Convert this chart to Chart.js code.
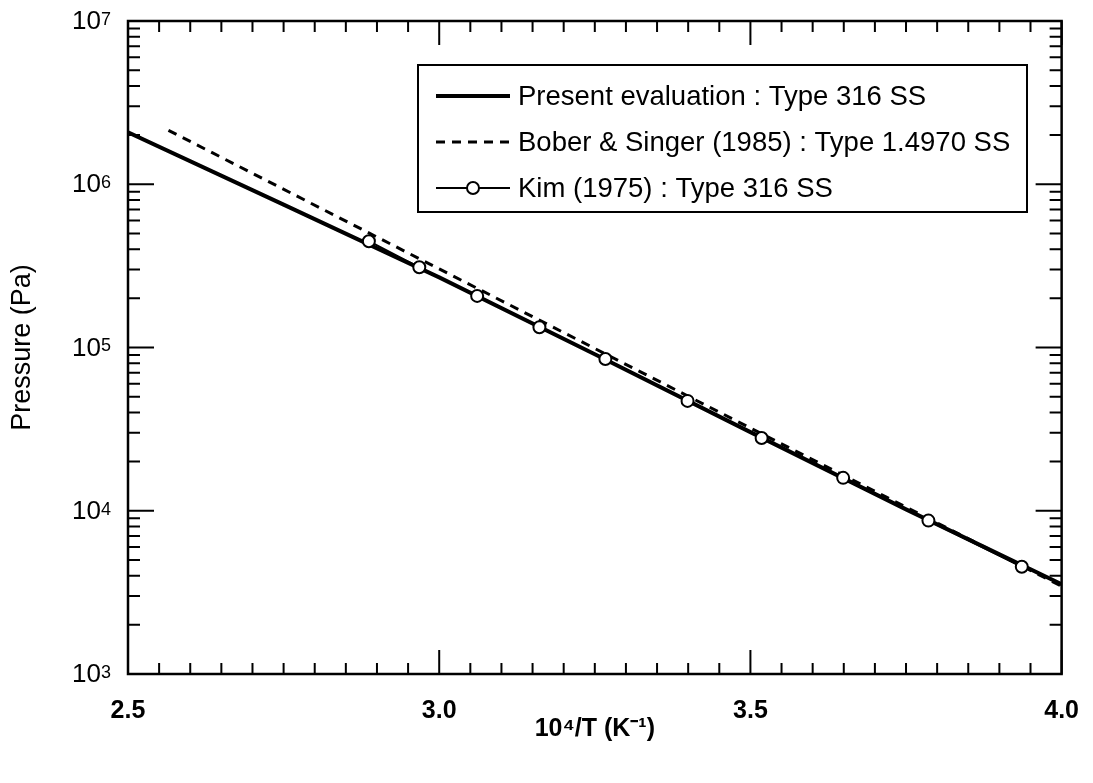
<!DOCTYPE html>
<html>
<head>
<meta charset="utf-8">
<script src="https://cdn.jsdelivr.net/npm/chart.js@4.4.0/dist/chart.umd.min.js"></script>
<style>
  html, body { margin: 0; padding: 0; background: #fff; }
  #wrap { width: 1093px; height: 783px; }
</style>
</head>
<body>
<div id="wrap"><canvas id="grafico" width="1093" height="783"></canvas></div>
<script>
// valores (x = 10^4/T, y = pressão em Pa)
const presenteX = [2.5, 2.75, 3.0, 3.25, 3.5, 3.75, 4.0];
const presenteP = [2.08e6, 7.5e5, 2.69e5, 9.1e4, 3.03e4, 1.02e4, 3.55e3];

const boberX = [2.565, 3.0, 3.5, 4.0];
const boberP = [2.14e6, 3.03e5, 3.21e4, 3.45e3];

const kimX = [2.887, 2.968, 3.061, 3.161, 3.267, 3.399, 3.518, 3.649, 3.786, 3.936];
const kimP = [4.48e5, 3.10e5, 2.07e5, 1.33e5, 8.5e4, 4.71e4, 2.79e4, 1.59e4, 8.7e3, 4.54e3];

const xTicks = [2.5, 3.0, 3.5, 4.0];
const yTicks = [1e3, 1e4, 1e5, 1e6, 1e7];

const legendas = [
    'Present evaluation : Type 316 SS',
    'Bober & Singer (1985) : Type 1.4970 SS',
    'Kim (1975) : Type 316 SS'
];

const FONTE = "'Liberation Sans', Arial, Helvetica, sans-serif";

const pares = (xs, ys) => xs.map((x, i) => ({ x: x, y: ys[i] }));

// moldura + marcas internas + rótulos 10^n do eixo y
const moldura = {
    id: 'moldura',
    afterDraw(chart) {
        const { ctx, chartArea: a, scales } = chart;
        ctx.save();
        ctx.strokeStyle = '#000';
        ctx.lineWidth = 2.5;
        ctx.strokeRect(a.left, a.top, a.right - a.left, a.bottom - a.top);
        ctx.lineWidth = 2;
        ctx.beginPath();
        for (let i = 0; i <= 30; i++) {
            const v = 2.5 + i * 0.05;
            const px = scales.x.getPixelForValue(v);
            const len = i % 10 === 0 ? 24 : 11;
            ctx.moveTo(px, a.bottom); ctx.lineTo(px, a.bottom - len);
            ctx.moveTo(px, a.top); ctx.lineTo(px, a.top + len);
        }
        for (let d = 3; d <= 6; d++) {
            for (let m = 1; m <= 9; m++) {
                const py = scales.y.getPixelForValue(m * Math.pow(10, d));
                const len = m === 1 ? 26 : 12;
                ctx.moveTo(a.left, py); ctx.lineTo(a.left + len, py);
                ctx.moveTo(a.right, py); ctx.lineTo(a.right - len, py);
            }
        }
        ctx.stroke();

        ctx.fillStyle = '#000';
        yTicks.forEach(v => {
            const py = scales.y.getPixelForValue(v);
            ctx.font = '26px ' + FONTE;
            ctx.textAlign = 'right';
            ctx.textBaseline = 'middle';
            ctx.fillText('10', a.left - 27, py + 1);
            ctx.font = '18px ' + FONTE;
            ctx.textAlign = 'left';
            ctx.textBaseline = 'top';
            ctx.fillText(String(Math.round(Math.log10(v))), a.left - 27, py - 10);
        });
        ctx.restore();
    }
};

// legenda em caixa dentro do gráfico
const legendaCaixa = {
    id: 'legendaCaixa',
    afterDraw(chart) {
        const ctx = chart.ctx;
        const box = { x: 418, y: 65, w: 609, h: 147 };
        ctx.save();
        ctx.fillStyle = '#fff';
        ctx.fillRect(box.x, box.y, box.w, box.h);
        ctx.strokeStyle = '#000';
        ctx.lineWidth = 2;
        ctx.strokeRect(box.x, box.y, box.w, box.h);
        chart.data.datasets.forEach((ds, i) => {
            const yy = box.y + 31 + i * 46;
            ctx.beginPath();
            ctx.lineWidth = ds.borderWidth;
            ctx.setLineDash(ds.borderDash || []);
            ctx.moveTo(436, yy);
            ctx.lineTo(510, yy);
            ctx.stroke();
            ctx.setLineDash([]);
            if (ds.pointRadius > 0) {
                ctx.beginPath();
                ctx.arc(473, yy, 6, 0, Math.PI * 2);
                ctx.fillStyle = '#fff';
                ctx.fill();
                ctx.lineWidth = 2;
                ctx.stroke();
            }
            ctx.fillStyle = '#000';
            ctx.font = '27.5px ' + FONTE;
            ctx.textBaseline = 'middle';
            ctx.fillText(ds.label, 518, yy + 1);
        });
        ctx.restore();
    }
};

new Chart(document.getElementById('grafico').getContext('2d'), {
    type: 'scatter',
    data: {
        datasets: [
            {
                label: legendas[0],
                data: pares(presenteX, presenteP),
                showLine: true,
                borderColor: '#000',
                borderWidth: 4,
                pointRadius: 0,
                order: 1
            },
            {
                label: legendas[1],
                data: pares(boberX, boberP),
                showLine: true,
                borderColor: '#000',
                borderWidth: 3,
                borderDash: [9, 7],
                pointRadius: 0,
                order: 2
            },
            {
                label: legendas[2],
                data: pares(kimX, kimP),
                showLine: true,
                borderColor: '#000',
                borderWidth: 2,
                pointRadius: 6,
                pointBorderWidth: 2,
                pointBackgroundColor: '#fff',
                pointBorderColor: '#000',
                order: 0
            }
        ]
    },
    options: {
        responsive: false,
        animation: false,
        layout: { padding: { top: 21, right: 27, left: 0, bottom: 0 } },
        plugins: { legend: { display: false }, tooltip: { enabled: false } },
        scales: {
            x: {
                type: 'linear',
                min: 2.5,
                max: 4.0,
                grid: { display: false },
                border: { display: false },
                afterBuildTicks: (s) => { s.ticks = xTicks.map(v => ({ value: v })); },
                afterFit: (s) => { s.height = 109; },
                ticks: {
                    color: '#000',
                    padding: 14,
                    maxRotation: 0,
                    font: { family: FONTE, size: 25, weight: 'bold' },
                    callback: (v) => Number(v).toFixed(1)
                },
                title: {
                    display: true,
                    text: '10⁴/T (K⁻¹)',
                    color: '#000',
                    font: { family: FONTE, size: 25, weight: 'bold' },
                    padding: { top: 0, bottom: 39 }
                }
            },
            y: {
                type: 'logarithmic',
                min: 1e3,
                max: 1e7,
                grid: { display: false },
                border: { display: false },
                afterBuildTicks: (s) => { s.ticks = yTicks.map(v => ({ value: v })); },
                afterFit: (s) => { s.width = 128; },
                ticks: { display: false },
                title: {
                    display: true,
                    text: 'Pressure (Pa)',
                    color: '#000',
                    font: { family: FONTE, size: 27 },
                    padding: { top: 6, bottom: 0 }
                }
            }
        }
    },
    plugins: [moldura, legendaCaixa]
});
</script>
</body>
</html>
